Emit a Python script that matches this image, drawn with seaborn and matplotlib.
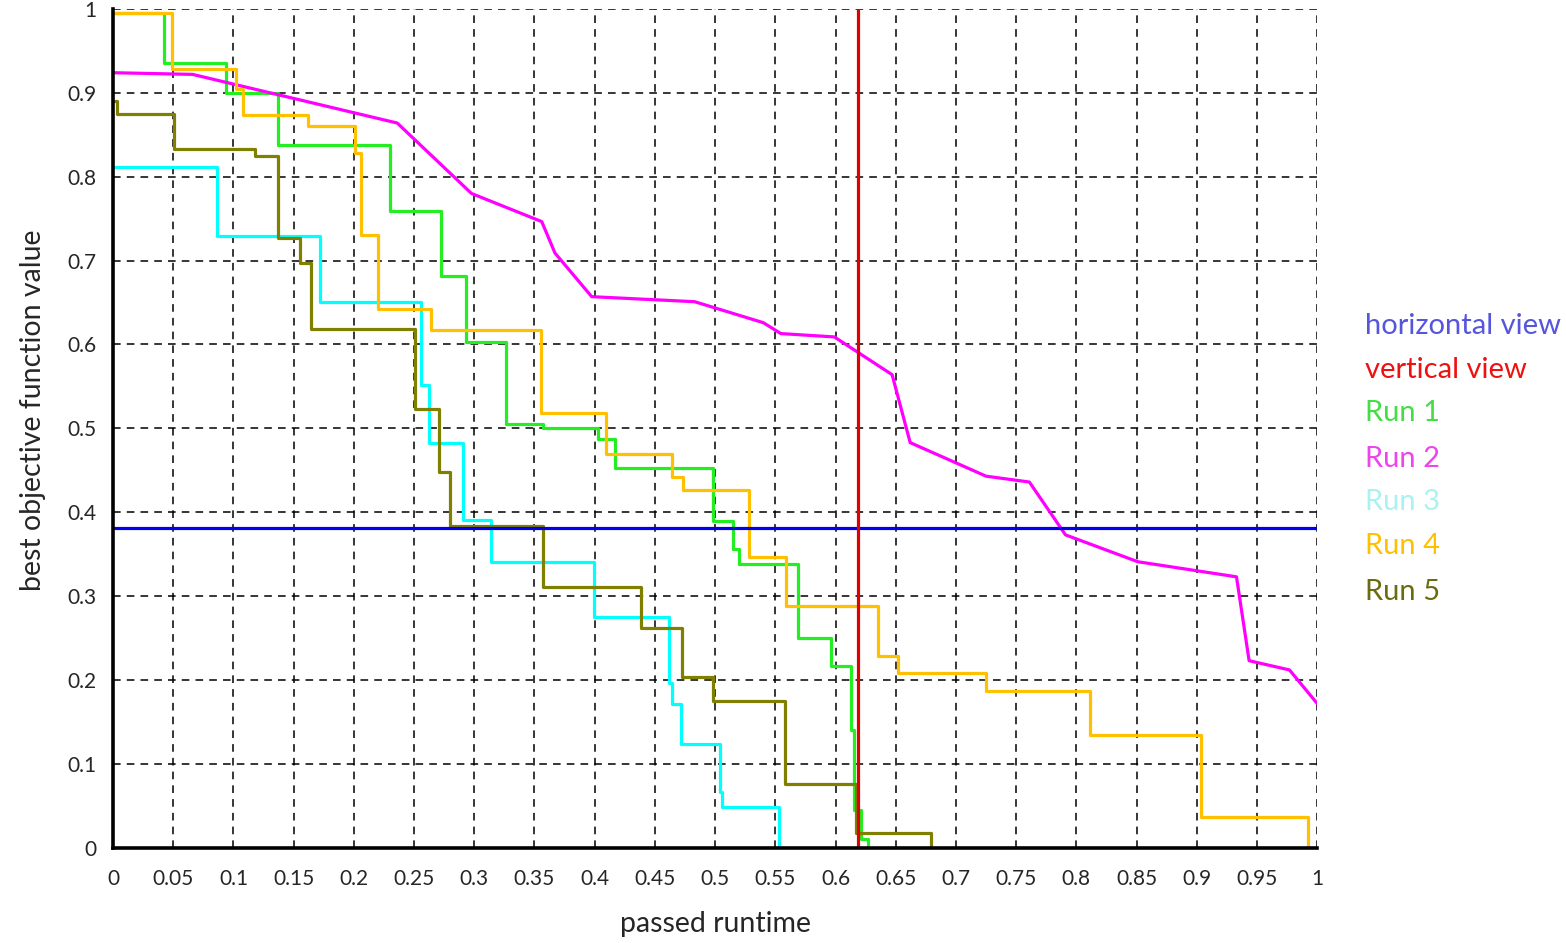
import seaborn as sns
import matplotlib.pyplot as plt
import pandas as pd

# -----------------------------------
# Data
# -----------------------------------
run1_x = [0, 0.042, 0.094, 0.137, 0.230, 0.272, 0.293, 0.326, 0.357, 0.403, 0.417,
          0.498, 0.515, 0.520, 0.569, 0.596, 0.613, 0.615, 0.621, 0.627]
run1_y = [0.995, 0.935, 0.900, 0.838, 0.759, 0.682, 0.603, 0.505, 0.500, 0.487, 0.453,
          0.389, 0.356, 0.338, 0.250, 0.217, 0.140, 0.045, 0.011, 0.0]

run2_x = [0, 0.066, 0.236, 0.2977, 0.356, 0.367, 0.3975, 0.483, 0.540, 0.5546, 0.599,
          0.647, 0.662, 0.725, 0.761, 0.791, 0.851, 0.933, 0.9435, 0.977, 1.0]
run2_y = [0.924, 0.922, 0.864, 0.780, 0.7465, 0.709, 0.657, 0.651, 0.626, 0.613, 0.609,
          0.564, 0.483, 0.443, 0.436, 0.373, 0.341, 0.323, 0.223, 0.212, 0.172]

run3_x = [0, 0.0865, 0.172, 0.256, 0.262, 0.291, 0.314, 0.399, 0.462, 0.464, 0.472,
          0.504, 0.506, 0.553]
run3_y = [0.812, 0.729, 0.651, 0.552, 0.482, 0.391, 0.341, 0.275, 0.197, 0.171, 0.124,
          0.066, 0.048, 0.0]

run4_x = [0, 0.0486, 0.102, 0.1075, 0.162, 0.2006, 0.206, 0.220, 0.264, 0.355, 0.409,
          0.464, 0.4735, 0.528, 0.559, 0.635, 0.652, 0.7247, 0.811, 0.9036, 0.992]
run4_y = [0.995, 0.928, 0.905, 0.874, 0.861, 0.8285, 0.730, 0.6425, 0.617, 0.518, 0.470,
          0.4417, 0.427, 0.347, 0.288, 0.229, 0.208, 0.187, 0.135, 0.037, 0.0]

run5_x = [0, 0.003, 0.0505, 0.1177, 0.137, 0.155, 0.164, 0.2506, 0.2703, 0.2797, 0.357,
          0.4384, 0.4722, 0.4986, 0.5584, 0.6166, 0.679]
run5_y = [0.890, 0.875, 0.8325, 0.825, 0.727, 0.6975, 0.618, 0.5227, 0.4477, 0.3833, 0.3107,
          0.262, 0.204, 0.1745, 0.0766, 0.017, 0.0]

horizontal_view = 0.381
vertical_view = 0.619

x_ticks = [i * 0.05 for i in range(21)]
y_ticks = [i * 0.1 for i in range(11)]
x_tick_labels = ["0", "0.05", "0.1", "0.15", "0.2", "0.25", "0.3", "0.35", "0.4", "0.45",
                 "0.5", "0.55", "0.6", "0.65", "0.7", "0.75", "0.8", "0.85", "0.9", "0.95", "1"]
y_tick_labels = ["0", "0.1", "0.2", "0.3", "0.4", "0.5", "0.6", "0.7", "0.8", "0.9", "1"]

legend_labels = ["horizontal view", "vertical view", "Run 1", "Run 2", "Run 3", "Run 4", "Run 5"]
legend_colors = ["#5555dd", "#ee1111", "#44dd44", "#ee44ee", "#aaf2f2", "#ffc000", "#6b6b10"]

sns.set_style("white")
plt.rcParams["font.family"] = ["Lato", "DejaVu Sans"]

# -----------------------------------
# Figure
# -----------------------------------
fig = plt.figure(figsize=(15.66, 9.43), dpi=100)
ax = fig.add_axes([0.0722, 0.101, 0.7689, 0.8895])

runs = [
    (run1_x, run1_y, "#22ee22", "steps-post"),
    (run2_x, run2_y, "#ff00ff", "default"),
    (run3_x, run3_y, "#00ffff", "steps-post"),
    (run4_x, run4_y, "#ffc000", "steps-post"),
    (run5_x, run5_y, "#808000", "steps-post"),
]
for xs, ys, col, style in runs:
    df = pd.DataFrame({"t": xs, "v": ys})
    sns.lineplot(data=df, x="t", y="v", color=col, linewidth=2.3,
                 drawstyle=style, ax=ax, zorder=3)

ax.axhline(horizontal_view, color="#0000ee", linewidth=2.3, zorder=4)
ax.axvline(vertical_view, color="#e00000", linewidth=2.3, zorder=4)

# -----------------------------------
# Axes styling
# -----------------------------------
ax.set_xlim(0, 1)
ax.set_ylim(0, 1)
ax.set_xticks(x_ticks)
ax.set_xticklabels(x_tick_labels)
ax.set_yticks(y_ticks)
ax.set_yticklabels(y_tick_labels)
ax.tick_params(axis="both", labelsize=15, length=6, width=1.3, color="black",
               direction="out", pad=6)
ax.tick_params(axis="x", pad=9)

ax.grid(True, color="black", linestyle=(0, (5, 4)), linewidth=1.1)
ax.set_axisbelow(True)

for side in ["top", "right"]:
    ax.spines[side].set_visible(False)
for side in ["left", "bottom"]:
    ax.spines[side].set_color("black")
    ax.spines[side].set_linewidth(2.6)
    ax.spines[side].set_zorder(5)

ax.set_xlabel("passed runtime", fontsize=20.5, labelpad=16)
ax.set_ylabel("best objective function value", fontsize=20.5)
ax.yaxis.set_label_coords(-0.056, 0.521)

# -----------------------------------
# Text-only legend
# -----------------------------------
legend_y = [326, 370, 413, 459, 502, 546, 592]
for lab, col, py in zip(legend_labels, legend_colors, legend_y):
    fig.text(1365 / 1566, 1 - py / 943, lab, color=col, fontsize=21,
             ha="left", va="center")

fig.savefig("out.png", dpi=100)
